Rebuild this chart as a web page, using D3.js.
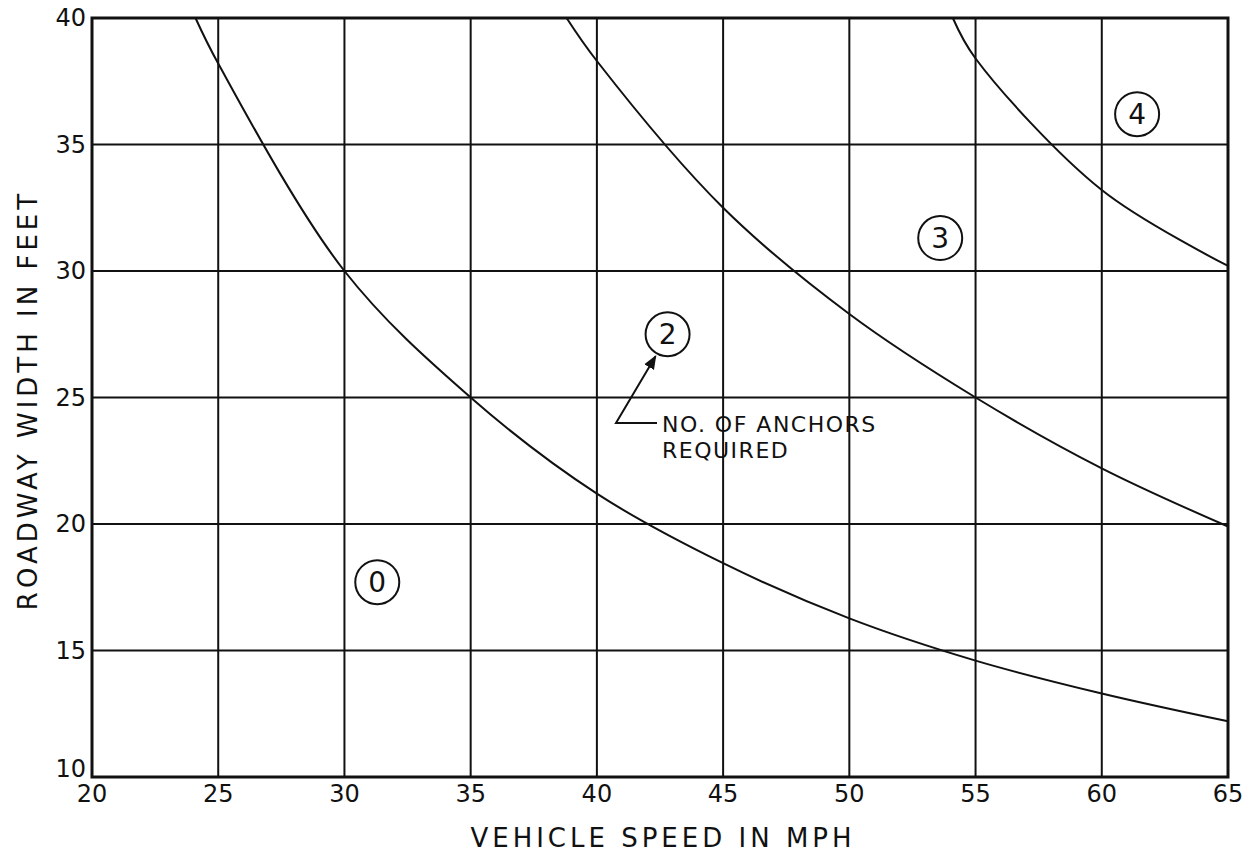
<!DOCTYPE html>
<html>
<head>
<meta charset="utf-8">
<script src="https://cdn.jsdelivr.net/npm/d3@7"></script>
<style>
  body { margin: 0; background: #fff; }
  text { font-family: "DejaVu Sans", sans-serif; fill: #111; }
</style>
</head>
<body>
<script>
// boundary curves between anchor counts (speed mph, width ft)
const curve0to2 = [[24.1, 40], [25, 38.2], [30, 30], [35, 25], [40, 21.2], [45, 18.45],
  [50, 16.27], [55, 14.6], [60, 13.3], [65, 12.2]];
const curve2to3 = [[38.8, 40], [40, 38.3], [45, 32.5], [50, 28.3], [55, 25], [60, 22.2], [65, 19.9]];
const curve3to4 = [[54.1, 40], [55, 38.4], [60, 33.2], [65, 30.2]];

// circled region labels
const zoneLabels = ['0', '2', '3', '4'];
const zoneSpeed = [31.3, 42.8, 53.6, 61.4];
const zoneWidth = [17.7, 27.5, 31.3, 36.2];

const xTicks = [20, 25, 30, 35, 40, 45, 50, 55, 60, 65];
const yTicks = [10, 15, 20, 25, 30, 35, 40];

const width = 1256;
const height = 852;
const plotLeft = 92, plotRight = 1228, plotTop = 18, plotBottom = 777;

const svg = d3.select('body').append('svg')
  .attr('width', width)
  .attr('height', height);

const x = d3.scaleLinear().domain([20, 65]).range([plotLeft, plotRight]);
const y = d3.scaleLinear().domain([10, 40]).range([plotBottom, plotTop]);

// grid
svg.append('g')
  .selectAll('line')
  .data(xTicks)
  .enter().append('line')
  .attr('x1', d => x(d)).attr('x2', d => x(d))
  .attr('y1', plotTop).attr('y2', plotBottom)
  .attr('stroke', '#111').attr('stroke-width', 2);

svg.append('g')
  .selectAll('line')
  .data(yTicks)
  .enter().append('line')
  .attr('x1', plotLeft).attr('x2', plotRight)
  .attr('y1', d => y(d)).attr('y2', d => y(d))
  .attr('stroke', '#111').attr('stroke-width', 2);

// frame
svg.append('rect')
  .attr('x', plotLeft).attr('y', plotTop)
  .attr('width', plotRight - plotLeft).attr('height', plotBottom - plotTop)
  .attr('fill', 'none').attr('stroke', '#111').attr('stroke-width', 3);

// tick labels
svg.append('g')
  .selectAll('text')
  .data(xTicks)
  .enter().append('text')
  .attr('x', d => x(d))
  .attr('y', plotBottom + 25)
  .attr('text-anchor', 'middle')
  .attr('font-size', 24)
  .text(d => d);

svg.append('g')
  .selectAll('text')
  .data(yTicks)
  .enter().append('text')
  .attr('x', plotLeft - 6)
  .attr('y', d => y(d) + (d === 10 ? 0 : 8))
  .attr('text-anchor', 'end')
  .attr('font-size', 24)
  .text(d => d);

// axis titles
svg.append('text')
  .attr('x', 663)
  .attr('y', 847)
  .attr('text-anchor', 'middle')
  .attr('font-size', 26)
  .attr('letter-spacing', 4)
  .text('VEHICLE SPEED IN MPH');

svg.append('text')
  .attr('transform', 'translate(37,400) rotate(-90)')
  .attr('text-anchor', 'middle')
  .attr('font-size', 26)
  .attr('letter-spacing', 4)
  .text('ROADWAY WIDTH IN FEET');

// curves
const line = d3.line()
  .x(d => x(d[0]))
  .y(d => y(d[1]))
  .curve(d3.curveCatmullRom.alpha(0.5));

svg.append('g')
  .selectAll('path')
  .data([curve0to2, curve2to3, curve3to4])
  .enter().append('path')
  .attr('d', line)
  .attr('fill', 'none')
  .attr('stroke', '#111')
  .attr('stroke-width', 2);

// circled labels
const zones = svg.append('g')
  .selectAll('g')
  .data(zoneLabels)
  .enter().append('g')
  .attr('transform', (d, i) => `translate(${x(zoneSpeed[i])},${y(zoneWidth[i])})`);

zones.append('circle')
  .attr('r', 22)
  .attr('fill', '#fff')
  .attr('stroke', '#111')
  .attr('stroke-width', 2);

zones.append('text')
  .attr('text-anchor', 'middle')
  .attr('y', 10)
  .attr('font-size', 28)
  .text(d => d);

// leader arrow to the "2" label
const tip = [x(zoneSpeed[1]) - 12, y(zoneWidth[1]) + 22];
svg.append('defs').append('marker')
  .attr('id', 'arrow')
  .attr('viewBox', '0 0 10 10')
  .attr('refX', 9).attr('refY', 5)
  .attr('markerWidth', 7).attr('markerHeight', 7)
  .attr('orient', 'auto')
  .append('path')
  .attr('d', 'M0,1 L10,5 L0,9 Z')
  .attr('fill', '#111');

svg.append('polyline')
  .attr('points', `657,423 616,423 ${tip[0]},${tip[1]}`)
  .attr('fill', 'none')
  .attr('stroke', '#111')
  .attr('stroke-width', 2)
  .attr('marker-end', 'url(#arrow)');

const note = svg.append('text')
  .attr('font-size', 22)
  .attr('letter-spacing', 1.5);
note.append('tspan').attr('x', 662).attr('y', 432).text('NO. OF ANCHORS');
note.append('tspan').attr('x', 662).attr('y', 458).text('REQUIRED');
</script>
</body>
</html>
